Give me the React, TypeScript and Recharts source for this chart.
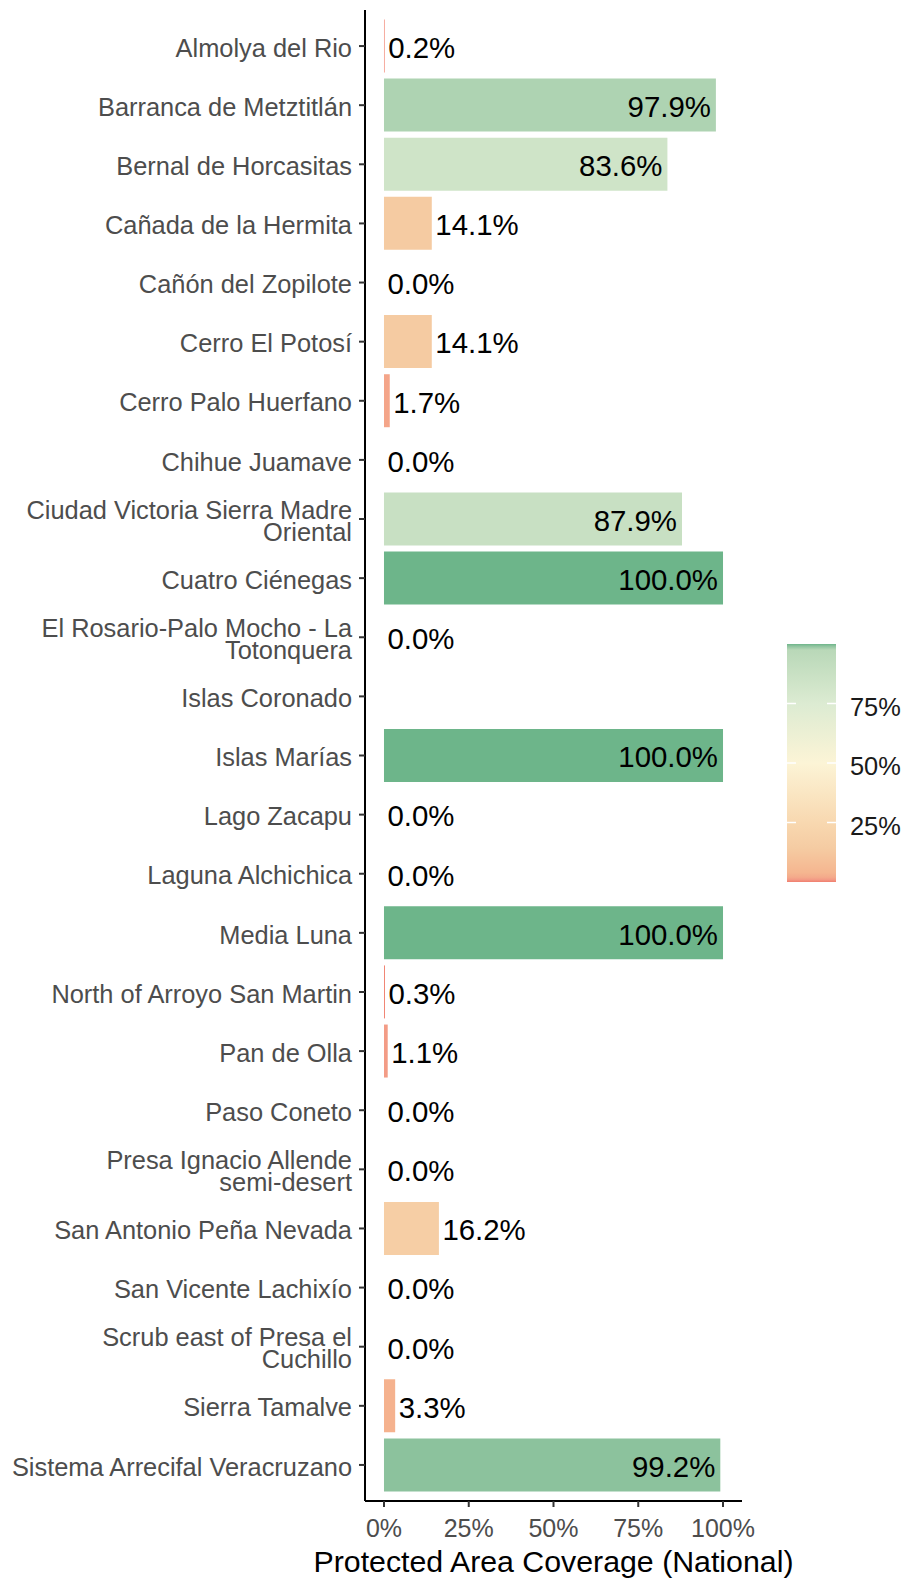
import React from 'react';
import { BarChart, Bar, XAxis, YAxis, Cell, LabelList } from 'recharts';

const FONT = '"Liberation Sans", Arial, Helvetica, sans-serif';

// sites in plotting order (top to bottom); "\n" marks where the label wraps
const sites = [
  'Almolya del Rio',
  'Barranca de Metztitlán',
  'Bernal de Horcasitas',
  'Cañada de la Hermita',
  'Cañón del Zopilote',
  'Cerro El Potosí',
  'Cerro Palo Huerfano',
  'Chihue Juamave',
  'Ciudad Victoria Sierra Madre\nOriental',
  'Cuatro Ciénegas',
  'El Rosario-Palo Mocho - La\nTotonquera',
  'Islas Coronado',
  'Islas Marías',
  'Lago Zacapu',
  'Laguna Alchichica',
  'Media Luna',
  'North of Arroyo San Martin',
  'Pan de Olla',
  'Paso Coneto',
  'Presa Ignacio Allende\nsemi-desert',
  'San Antonio Peña Nevada',
  'San Vicente Lachixío',
  'Scrub east of Presa el\nCuchillo',
  'Sierra Tamalve',
  'Sistema Arrecifal Veracruzano',
];

// protected area coverage, percent (null = no data)
const coverage: (number | null)[] = [
  0.2, 97.9, 83.6, 14.1, 0.0, 14.1, 1.7, 0.0, 87.9, 100.0, 0.0, null, 100.0,
  0.0, 0.0, 100.0, 0.3, 1.1, 0.0, 0.0, 16.2, 0.0, 0.0, 3.3, 99.2,
];

const xTicks = [0, 25, 50, 75, 100];
const legendTicks = [25, 50, 75];

const data = sites.map((name, i) => ({ name, coverage: coverage[i] }));

// fill scale (value -> colour), shared by bars and colourbar
const colourStops: [number, string][] = [
  [0, '#F07E6E'],
  [1, '#F39A85'],
  [2, '#F4AA8B'],
  [4, '#F5B690'],
  [14, '#F5CBA2'],
  [25, '#F8D8B0'],
  [50, '#FCF4D6'],
  [75, '#DCEBD2'],
  [97.5, '#B9D8B8'],
  [99.2, '#8CC29D'],
  [100, '#6DB58A'],
];

const hexToRgb = (h: string) => [1, 3, 5].map((i) => parseInt(h.slice(i, i + 2), 16));

function fillFor(v: number) {
  for (let i = 1; i < colourStops.length; i++) {
    const [v1, c1] = colourStops[i];
    if (v <= v1) {
      const [v0, c0] = colourStops[i - 1];
      const t = (v - v0) / (v1 - v0);
      const a = hexToRgb(c0);
      const b = hexToRgb(c1);
      const rgb = a.map((x, k) => Math.round(x + (b[k] - x) * t));
      return `rgb(${rgb.join(',')})`;
    }
  }
  return colourStops[colourStops.length - 1][1];
}

const SiteTick = (props: any) => {
  const { x, y, payload } = props;
  const lines = String(payload.value).split('\n');
  const lh = 22.3;
  const start = -((lines.length - 1) * lh) / 2;
  return (
    <text x={x} y={y} textAnchor="end" fill="#4D4D4D" fontSize={25.4} fontFamily={FONT}>
      {lines.map((l, i) => (
        <tspan key={i} x={x - 4} y={y + start + i * lh + 1.5} dy="0.36em">
          {l}
        </tspan>
      ))}
    </text>
  );
};

const ValueLabel = (props: any) => {
  const { x, y, width, height, value } = props;
  if (value === null || value === undefined) return null;
  const v = Number(value);
  const inside = v > 50;
  const end = x + Math.max(width, 0);
  return (
    <text
      x={inside ? end - 5 : end + 3.5}
      y={y + height / 2 + 1}
      dy="0.37em"
      textAnchor={inside ? 'end' : 'start'}
      fontSize={29.4}
      fontFamily={FONT}
      fill="#000"
    >
      {v.toFixed(1)}%
    </text>
  );
};

const ColourBar = () => {
  const bx = 787;
  const bw = 49;
  const top = 644;
  const h = 238;
  const yOf = (v: number) => top + h - (v / 100) * h;
  return (
    <svg width={904} height={1579} style={{ position: 'absolute', left: 0, top: 0, pointerEvents: 'none' }}>
      <defs>
        <linearGradient id="cov" x1="0" y1="1" x2="0" y2="0">
          {colourStops.map(([v, c]) => (
            <stop key={v} offset={`${v}%`} stopColor={c} />
          ))}
        </linearGradient>
      </defs>
      <rect x={bx} y={top} width={bw} height={h} fill="url(#cov)" />
      {legendTicks.map((t) => (
        <g key={t}>
          <line x1={bx} x2={bx + 9} y1={yOf(t)} y2={yOf(t)} stroke="#fff" strokeWidth={1.5} />
          <line x1={bx + bw - 9} x2={bx + bw} y1={yOf(t)} y2={yOf(t)} stroke="#fff" strokeWidth={1.5} />
          <text x={850} y={yOf(t) + 3} dy="0.36em" fontSize={25.4} fontFamily={FONT} fill="#1A1A1A">
            {t}%
          </text>
        </g>
      ))}
    </svg>
  );
};

export default function App() {
  return (
    <div style={{ position: 'absolute', left: 0, top: 0, width: 904, height: 1579, background: '#fff' }}>
      <BarChart
        width={904}
        height={1579}
        data={data}
        layout="vertical"
        margin={{ top: 10, right: 162, bottom: 0, left: 0 }}
      >
        <XAxis
          type="number"
          domain={[-5.6, 105.6]}
          ticks={xTicks}
          tickFormatter={(v: number) => `${v}%`}
          height={78}
          axisLine={{ stroke: '#000', strokeWidth: 2 }}
          tickLine={{ stroke: '#333', strokeWidth: 2 }}
          tickSize={6}
          tickMargin={12}
          tick={{ fontSize: 25, fill: '#4D4D4D', fontFamily: FONT }}
          label={{
            value: 'Protected Area Coverage (National)',
            position: 'insideBottom',
            offset: 7,
            fontSize: 30.3,
            fill: '#000',
            fontFamily: FONT,
          }}
        />
        <YAxis
          type="category"
          dataKey="name"
          width={365}
          padding={{ top: 6.5, bottom: 6.5 }}
          axisLine={{ stroke: '#000', strokeWidth: 2 }}
          tickLine={{ stroke: '#333', strokeWidth: 2 }}
          tickSize={6}
          tickMargin={3}
          interval={0}
          tick={<SiteTick />}
        />
        <Bar dataKey="coverage" barSize={53} minPointSize={0.001} isAnimationActive={false}>
          {data.map((d, i) => (
            <Cell key={i} fill={d.coverage === null ? 'none' : fillFor(d.coverage)} />
          ))}
          <LabelList dataKey="coverage" content={<ValueLabel />} />
        </Bar>
      </BarChart>
      <ColourBar />
    </div>
  );
}
